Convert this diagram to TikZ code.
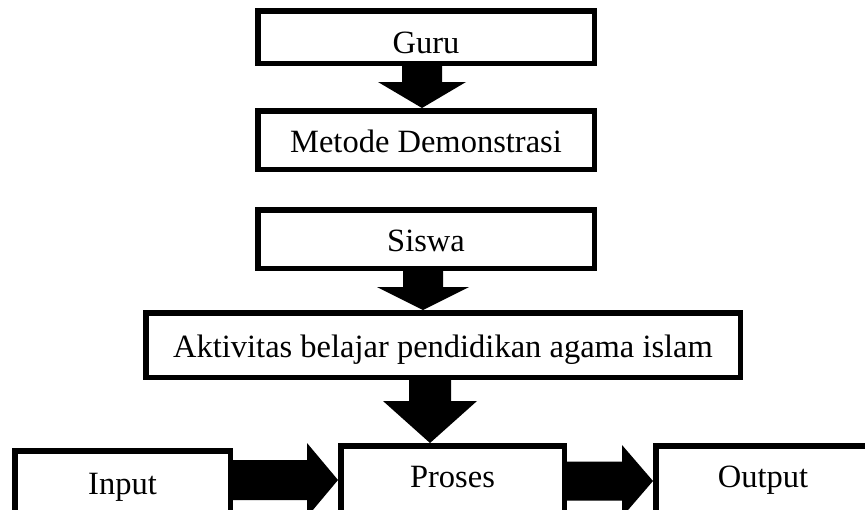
\documentclass[tikz,border=0pt]{standalone}
\usepackage{fontspec}
\setmainfont{Liberation Serif}
\usepackage{tikz}
\usetikzlibrary{calc}

\tikzset{
  box/.style={draw=black, line width=5.5pt, inner sep=0pt,
    text height=31pt, text depth=6.5pt, font=\fontsize{32.5pt}{39pt}\selectfont},
}

% block arrows: from, tip, shaft half width, head half width, head length
\newcommand{\blockdown}[5]{%
  \fill ($(#1)+(-#3,0)$) -- ($(#2)+(-#3,-#5)$) -- ($(#2)+(-#4,-#5)$) -- (#2)
    -- ($(#2)+(#4,-#5)$) -- ($(#2)+(#3,-#5)$) -- ($(#1)+(#3,0)$) -- cycle;}
\newcommand{\blockright}[5]{%
  \fill ($(#1)+(0,-#3)$) -- ($(#2)+(-#5,-#3)$) -- ($(#2)+(-#5,-#4)$) -- (#2)
    -- ($(#2)+(-#5,#4)$) -- ($(#2)+(-#5,#3)$) -- ($(#1)+(0,#3)$) -- cycle;}

\begin{document}
\begin{tikzpicture}[x=1pt, y=-1pt]
    \useasboundingbox (0,0) rectangle (865,509);
    \clip (0,0) rectangle (865,509);

    % draw upper boxes
    \node[box, text height=32pt, text depth=0pt, minimum width=336.5pt, minimum height=52.5pt] (guru) at (426,37) {Guru};
    \node[box, minimum width=336.5pt, minimum height=58.5pt] (metode) at (426,140) {Metode Demonstrasi};
    \node[box, minimum width=336.5pt, minimum height=58.5pt] (siswa) at (426,239) {Siswa};
    \node[box, minimum width=594.5pt, minimum height=64.5pt] (aktivitas) at (443,345) {Aktivitas belajar pendidikan agama islam};

    % draw lower boxes
    \node[box, minimum width=215.5pt, minimum height=62.5pt] (input) at (122.5,482) {Input};
    \node[box, text depth=16.5pt, minimum width=223.5pt, minimum height=68.5pt] (proses) at (452.5,480) {Proses};
    \node[box, text depth=16.5pt, minimum width=214.5pt, minimum height=68.5pt] (output) at (763,480) {Output};

    % arrow axes
    \coordinate (axA) at (422,0);
    \coordinate (axB) at (423,0);
    \coordinate (axC) at (430,0);
    \coordinate (axD) at (0,480);
    \coordinate (axE) at (0,481);

    % draw block arrows
    \blockdown{axA |- guru.south}{axA |- metode.north}{20}{44}{26}
    \blockdown{axB |- siswa.south}{axB |- aktivitas.north}{20}{46}{23}
    \blockdown{axC |- aktivitas.south}{axC |- proses.north}{21}{47}{42}
    \blockright{input.east |- axD}{proses.west |- axD}{20}{37}{31}
    \blockright{proses.east |- axE}{output.west |- axE}{19.5}{36}{31}
\end{tikzpicture}
\end{document}
